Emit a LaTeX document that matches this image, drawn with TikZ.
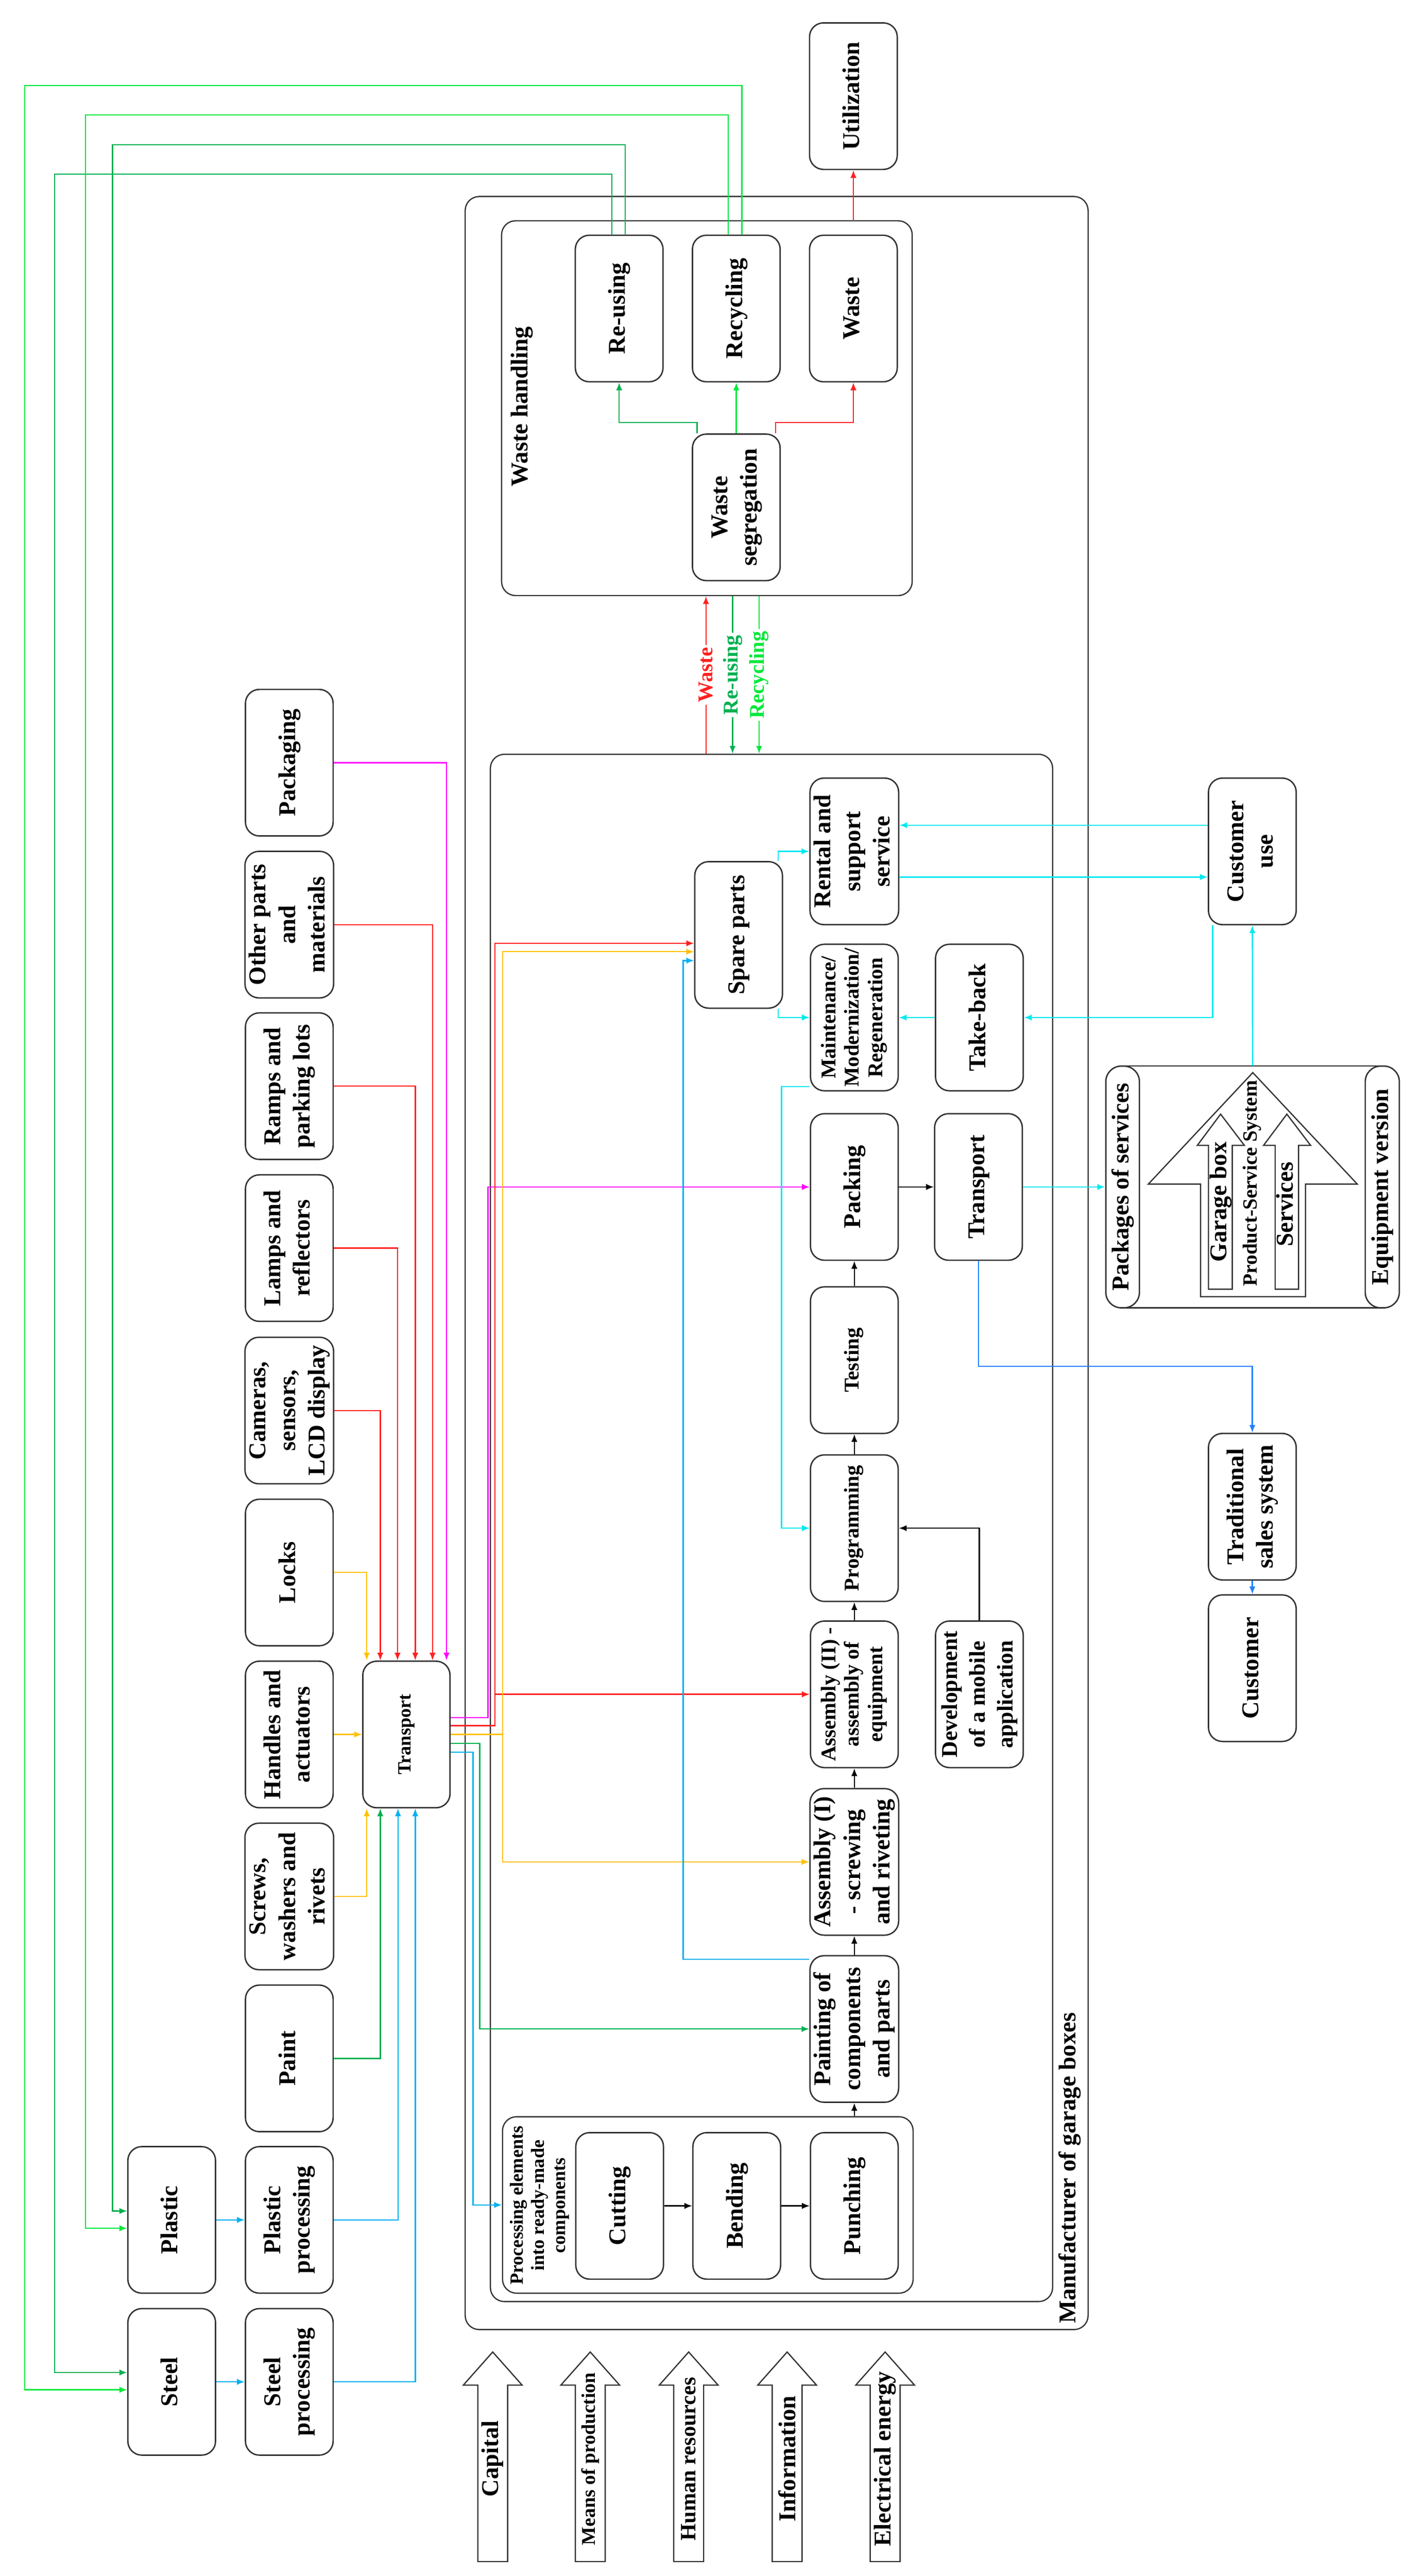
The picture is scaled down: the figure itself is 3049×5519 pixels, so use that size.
\documentclass[tikz,border=0pt]{standalone}
\usepackage{fontspec}
\setmainfont{Liberation Serif}
\usetikzlibrary{arrows.meta}
\definecolor{gm}{HTML}{00B050}
\definecolor{gb}{HTML}{00E83A}
\definecolor{cy}{HTML}{00E8F0}
\definecolor{lb}{HTML}{00B0F0}
\definecolor{bl}{HTML}{1E80FF}
\definecolor{yl}{HTML}{FFC000}
\definecolor{rd}{HTML}{FF2020}
\definecolor{mg}{HTML}{FF00FF}
\newcommand\rt[1]{\rotatebox{90}{\begin{tabular}{@{}c@{}}#1\end{tabular}}}
\tikzset{
  box/.style={draw=black!80, line width=0.9pt, rounded corners=9pt, minimum width=56.4pt, minimum height=94.2pt, inner sep=0pt, fill=white, font=\bfseries\fontsize{15.5}{19}\selectfont},
  sm/.style={font=\bfseries\fontsize{13.5}{15}\selectfont},
  frame/.style={draw=black!80, line width=0.8pt, rounded corners=9pt, inner sep=0pt},
  ln/.style={line width=0.8pt},
  ar/.style={ln, -{Latex[length=5pt,width=4pt]}},
  lab/.style={font=\bfseries\fontsize{15.5}{19}\selectfont, inner sep=1pt},
  fl/.style={fill=white, inner sep=1.5pt, font=\bfseries\fontsize{13.5}{15}\selectfont},
  bigar/.style={draw=black!80, line width=0.8pt, fill=white}
}
\begin{document}
\begin{tikzpicture}[x=0.3pt,y=-0.3pt]
\useasboundingbox (0,0) rectangle (3049,5519);
% frames
\node[frame, minimum width=400.5pt, minimum height=1371pt] (outer) at (1664.5,2706) {};
\node[frame, minimum width=361.5pt, minimum height=994.5pt] (inner) at (1653.5,3273.5) {};
\node[frame, minimum width=264pt, minimum height=240.9pt] (wh) at (1515,874.5) {};
\node[frame, minimum width=264pt, minimum height=113.4pt] (proc) at (1517,4724) {};
\node[lab, rotate=90, anchor=west] (manl) at (2293,4982) {Manufacturer of garage boxes};
\node[lab, rotate=90] (whl) at (1119,871) {Waste handling};
\node[font=\bfseries\fontsize{12}{13.5}\selectfont, inner sep=0pt] (procl) at (1157,4725) {\rt{Processing elements\\into ready-made\\components}};

% waste handling
\node[box] (reuse) at (1327,661) {\rt{Re-using}};
\node[box] (recyc) at (1578,661) {\rt{Recycling}};
\node[box] (waste) at (1829,661) {\rt{Waste}};
\node[box] (util) at (1829,206) {\rt{Utilization}};
\node[box] (seg) at (1578,1087) {\rt{Waste\\segregation}};

% left column
\node[box] (pack) at (620,1634) {\rt{Packaging}};
\node[box] (other) at (620,1981) {\rt{Other parts\\and\\materials}};
\node[box] (ramps) at (620,2327) {\rt{Ramps and\\parking lots}};
\node[box] (lamps) at (620,2674) {\rt{Lamps and\\reflectors}};
\node[box] (cams) at (620,3022) {\rt{Cameras,\\sensors,\\LCD display}};
\node[box] (locks) at (620,3369) {\rt{Locks}};
\node[box] (hand) at (620,3716) {\rt{Handles and\\actuators}};
\node[box] (screw) at (620,4063) {\rt{Screws,\\washers and\\rivets}};
\node[box] (paint) at (620,4410) {\rt{Paint}};
\node[box] (plproc) at (620,4756) {\rt{Plastic\\processing}};
\node[box] (stproc) at (620,5103) {\rt{Steel\\processing}};
\node[box] (plastic) at (368,4756) {\rt{Plastic}};
\node[box] (steel) at (368,5103) {\rt{Steel}};
\node[box, minimum width=56.1pt, font=\bfseries\fontsize{12}{14}\selectfont] (t1) at (871,3716) {\rt{Transport}};

% production
\node[box] (rental) at (1831,1824) {\rt{Rental and\\support\\service}};
\node[box, sm] (maint) at (1831,2180) {\rt{Maintenance/\\Modernization/\\Regeneration}};
\node[box] (packing) at (1831,2543) {\rt{Packing}};
\node[box, sm] (test) at (1831,2914) {\rt{Testing}};
\node[box, sm] (prog) at (1831,3274) {\rt{Programming}};
\node[box, sm] (ass2) at (1831,3630) {\rt{Assembly (II) -\\assembly of\\equipment}};
\node[box] (ass1) at (1831,3989) {\rt{Assembly (I)\\- screwing\\and riveting}};
\node[box] (paintc) at (1831,4347) {\rt{Painting of\\components\\and parts}};
\node[box] (spare) at (1583,2003) {\rt{Spare parts}};
\node[box] (t2) at (2097,2543) {\rt{Transport}};
\node[box] (tb) at (2099,2180) {\rt{Take-back}};
\node[box, font=\bfseries\fontsize{14.5}{18}\selectfont] (dev) at (2099,3630) {\rt{Development\\of a mobile\\application}};
\node[box] (cut) at (1328,4726) {\rt{Cutting}};
\node[box] (bend) at (1579,4726) {\rt{Bending}};
\node[box] (punch) at (1831,4726) {\rt{Punching}};

% right side
\node[box] (cust) at (2684,1824) {\rt{Customer\\use}};
\node[box] (trad) at (2684,3228) {\rt{Traditional\\sales system}};
\node[box] (cust2) at (2684,3574) {\rt{Customer}};

% packages of services
\node[minimum width=188.7pt, minimum height=155.4pt, inner sep=0pt] (pkg) at (2684.5,2543) {};
\draw[line width=0.8pt, draw=black!80] (2406,2284) -- (2962,2284) (2406,2802) -- (2962,2802);
\draw[bigar] (2685,2298) -- (2909,2537) -- (2798,2537) -- (2798,2778) -- (2573,2778) -- (2573,2537) -- (2461,2537) -- cycle;
\draw[bigar] (2616,2387) -- (2667,2454) -- (2641,2454) -- (2641,2762) -- (2590,2762) -- (2590,2454) -- (2566,2454) -- cycle;
\draw[bigar] (2758,2387) -- (2809,2454) -- (2783,2454) -- (2783,2762) -- (2733,2762) -- (2733,2454) -- (2708,2454) -- cycle;
\node[box, minimum width=21.6pt, minimum height=155.4pt, rounded corners=10pt] (pkgl) at (2406,2543) {\rt{Packages of services}};
\node[box, minimum width=21.9pt, minimum height=155.4pt, rounded corners=10pt] (pkgr) at (2962.5,2543) {\rt{Equipment version}};
\node[font=\fontsize{13}{15}\selectfont\bfseries, inner sep=0pt] (pss) at (2684,2535) {\rt{Product-Service System}};
\node[lab] (gbox) at (2616,2575) {\rt{Garage box}};
\node[lab] (serv) at (2758,2580) {\rt{Services}};

% bottom arrows
\foreach \cx/\nm/\tx/\fs in {1056/capital/Capital/15.5, 1265/means/Means of production/12.5, 1476/human/Human resources/14, 1687/info/Information/15.5, 1897/elec/Electrical energy/15.5}{
  \draw[bigar] (\cx,5039) -- ++(63,71) -- ++(-31,0) -- ++(0,378) -- ++(-64,0) -- ++(0,-378) -- ++(-31,0) -- cycle;
  \node[font=\bfseries\fontsize{\fs}{17}\selectfont, rotate=90, inner sep=0pt] (\nm) at (\cx,5268) {\tx};
}

% ---- connectors ----
% waste handling
\draw[ar, gm] (seg.north -| 1494,0) |- (reuse.south |- 0,905) -- (reuse.south);
\draw[ar, gb, line width=1.1pt] (seg.north) -- (recyc.south);
\draw[ar, rd] (seg.north -| 1662,0) |- (waste.south |- 0,905) -- (waste.south);
\draw[ar, rd] (wh.north -| util.south) -- (util.south);
\draw[ar, rd] (inner.north -| 1513,0) -- node[fl, text=rd, rotate=90] (wl) {Waste} (wh.south -| 1513,0);
\draw[ar, gm] (wh.south -| 1570,0) -- node[fl, text=gm, rotate=90] (rul) {Re-using} (inner.north -| 1570,0);
\draw[ar, gb] (wh.south -| 1627,0) -- node[fl, text=gb, rotate=90] (rcl) {Recycling} (inner.north -| 1627,0);
% recycling loops
\draw[ar, gm] (reuse.north -| 1311,0) |- (117,373) |- (steel.west |- 0,5083);
\draw[ar, gm] (reuse.north -| 1340,0) |- (241,310) |- (plastic.west |- 0,4737);
\draw[ar, gb] (recyc.north -| 1561,0) |- (183,246) |- (plastic.west |- 0,4774);
\draw[ar, gb] (recyc.north -| 1590,0) |- (53,183) |- (steel.west |- 0,5120);
% inputs to transport
\draw[ar, mg] (pack.east) -| (t1.north -| 957,0);
\draw[ar, rd] (other.east) -| (t1.north -| 927,0);
\draw[ar, rd] (ramps.east) -| (t1.north -| 890,0);
\draw[ar, rd] (lamps.east) -| (t1.north -| 852,0);
\draw[ar, rd] (cams.east) -| (t1.north -| 815,0);
\draw[ar, yl] (locks.east) -| (t1.north -| 786,0);
\draw[ar, yl] (hand.east) -- (t1.west);
\draw[ar, yl] (screw.east) -| (t1.south -| 786,0);
\draw[ar, gm] (paint.east) -| (t1.south -| 815,0);
\draw[ar, lb] (plproc.east) -| (t1.south -| 853,0);
\draw[ar, lb] (stproc.east) -| (t1.south -| 890,0);
\draw[ar, lb] (plastic.east) -- (plproc.west);
\draw[ar, lb] (steel.east) -- (stproc.west);
% transport outputs
\draw[ar, mg] (t1.east |- 0,3680) -| (1046,2543) -- (packing.west);
\draw[ar, rd] (t1.east |- 0,3697) -| (1061,2021) -- (spare.west |- 0,2021);
\draw[ar, rd] (1061,3630) -- (ass2.west);
\draw[ar, yl] (t1.east |- 0,3716) -| (1077,2039) -- (spare.west |- 0,2039);
\draw[ar, yl] (1077,3716) |- (ass1.west);
\draw[ar, gm] (t1.east |- 0,3735) -| (1028,4347) -- (paintc.west);
\draw[ar, lb] (t1.east |- 0,3754) -| (1014,4724) -- (proc.west |- 0,4724);
\draw[ar, lb] (paintc.west |- 0,4198) -| (1464,2058) -- (spare.west |- 0,2058);
% process chain
\draw[ar, black] (cut.east) -- (bend.west);
\draw[ar, black] (bend.east) -- (punch.west);
\draw[ar, black] (proc.north -| paintc.south) -- (paintc.south);
\draw[ar, black] (paintc.north) -- (ass1.south);
\draw[ar, black] (ass1.north) -- (ass2.south);
\draw[ar, black] (ass2.north) -- (prog.south);
\draw[ar, black] (prog.north) -- (test.south);
\draw[ar, black] (test.north) -- (packing.south);
\draw[ar, black] (dev.north) |- (prog.east);
\draw[ar, black] (packing.east) -- (t2.west);
% services
\draw[ar, cy] (spare.north -| 1668,0) |- (rental.west);
\draw[ar, cy] (spare.south -| 1668,0) |- (maint.west);
\draw[ar, cy] (maint.west |- 0,2328) -| (1675,3274) -- (prog.west);
\draw[ar, cy] (tb.west) -- (maint.east);
\draw[ar, cy] (cust.south -| 2599,0) |- (tb.east);
\draw[ar, cy] (cust.west |- 0,1768) -- (rental.east |- 0,1768);
\draw[ar, cy] (rental.east |- 0,1879) -- (cust.west |- 0,1879);
\draw[ar, cy] (pkg.north) -- (cust.south);
\draw[ar, cy] (t2.east) -- (pkgl.west);
\draw[ar, bl] (t2.south) |- (trad.north |- 0,2927) -- (trad.north);
\draw[ar, bl] (trad.south) -- (cust2.north);
\end{tikzpicture}
\end{document}
